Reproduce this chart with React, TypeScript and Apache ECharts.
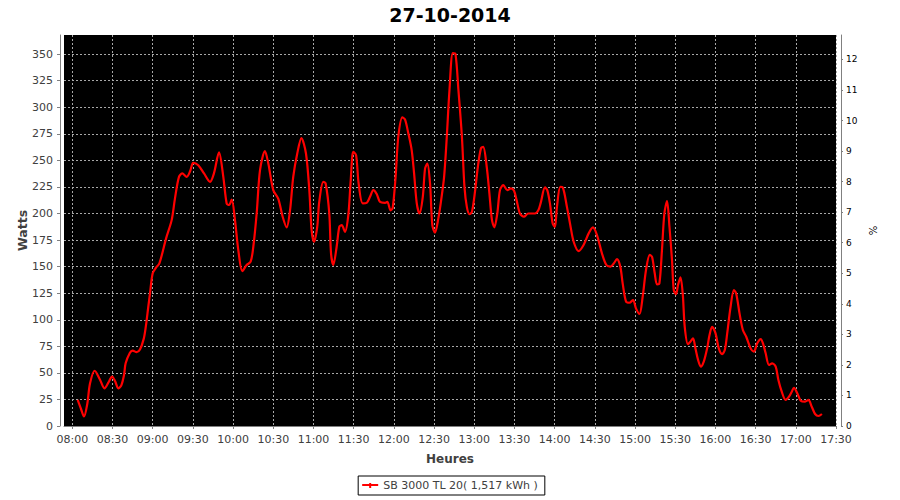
import React, { useEffect, useRef } from "react";
import * as echarts from "echarts";

const chartTitle = "27-10-2014";
const seriesName = "SB 3000 TL 20( 1,517 kWh )";

// minutes after 08:00
const minutesAfter8 = [
  4, 6.5, 8.7, 11.2, 13.2, 16.7, 20.5, 24, 27, 29.7, 32, 34.3, 36.5, 38.6, 39.8, 43, 45, 48, 50.5, 53.3,
  54.8, 56.7, 58, 60, 62.5, 65, 70, 74.2, 76.6, 79.6, 82, 85.4, 88, 90.3, 94, 98.3, 102.8, 105.7, 109.5, 112.7,
  115.2, 117, 119, 121.4, 123.9, 126.9, 130.1, 133.1, 135.1, 137.6, 140.1, 143.8, 146.3, 150, 153.7, 157, 160, 162.5, 164.9, 167.9,
  171, 174.4, 176.9, 178.6, 180.4, 182.8, 184.3, 187.3, 189.1, 191.8, 193.1, 194.8, 197.3, 199.3, 201.1, 203.5, 206, 207.8, 209.7, 211.8,
  213.7, 216.7, 219.7, 222.2, 224.7, 227.2, 229.6, 233.4, 235.1, 237.6, 239.1, 241.3, 243.3, 246.3, 248.3, 250.8, 253.3, 255.1, 257.1, 259.1,
  261.6, 263.3, 265, 267, 268.7, 270.7, 273.2, 275.3, 277.5, 279.5, 281.5, 284, 286, 288.2, 290.8, 292.7, 294.5, 296.5, 298.3, 300.7,
  302.7, 305, 306.7, 309.3, 311.3, 313.2, 315, 317.2, 319.2, 321.7, 324.7, 327.4, 329.7, 331.6, 334.1, 337.1, 340.3, 345.3, 347.8, 349.6,
  352.8, 354.5, 356.5, 358.5, 360.2, 361.7, 364.2, 366, 369.2, 371.7, 374.2, 377.9, 381.6, 385.4, 388.6, 391.6, 395.3, 398.6, 401.6, 404.1,
  406.5, 409, 410.8, 413.3, 415.8, 418.5, 420.7, 423.3, 425.7, 428.2, 431, 432.7, 434.7, 436.4, 438.2, 440.1, 441.9, 443.9, 445.7, 447.6,
  448.9, 450.6, 452.1, 453.9, 455.6, 457.1, 459.5, 461.3, 463.3, 465.1, 467.1, 469.1, 471.3, 473.8, 475.6, 477.5, 480.1, 482.5, 485, 487,
  488.8, 491.3, 493.8, 495.5, 498, 500.5, 503, 506.3, 508.7, 511.2, 513.8, 515.5, 517.5, 520, 522.4, 525, 527, 529.5, 532.4, 534.9,
  537, 538.6, 541.1, 543.7, 546.9, 549.4, 551.9, 554.4, 556.9, 559.5,
];

const watts = [
  24.5, 16, 9, 21, 40, 52, 44, 35.5, 41, 46.5, 42, 35.5, 38, 48, 59, 69, 71, 69.5, 72, 82,
  93, 112, 125, 143.7, 149, 153, 176.6, 194, 214, 234.5, 237.7, 234.5, 240, 247.7, 245.5, 237.7, 229.8, 237.7, 257.5, 234.5,
  209.5, 208, 213, 194, 165.6, 145.8, 151.5, 154.6, 168.7, 200, 240.8, 258.7, 247, 222, 214, 197, 187, 203, 234.5, 256.5,
  271, 256.5, 222, 184.4, 173.4, 187.5, 211, 229.8, 228.3, 200, 162.5, 151.5, 168.7, 187.5, 189, 182.8, 198.5, 231.4, 258, 255,
  228.3, 209.5, 210, 215.7, 222, 218.3, 211, 210, 211, 203, 205, 234.5, 272, 290.4, 288.5, 275.4, 259.7, 237.7, 209.5, 200,
  215.7, 242.4, 247, 228.3, 189, 182, 195.4, 212.6, 234.5, 272, 316, 351, 350, 316, 272, 225, 206, 199.4, 201.6, 222,
  244, 261.3, 262.8, 244, 219, 194, 187, 200, 222, 226.7, 222, 223.6, 221.4, 212.6, 200, 197, 200, 200, 203, 210,
  224.5, 222, 209.5, 190.7, 187.5, 206, 225, 224.6, 206, 189, 173.4, 164.6, 170.3, 181.3, 186.9, 179.7, 162.5, 151.5, 150, 153,
  157, 150, 134, 117, 116, 118.5, 110.7, 105.4, 121.6, 146.8, 161, 159.3, 143.7, 133.3, 134.2, 165.6, 200, 211.7, 187.5, 156,
  128, 124, 132.7, 140, 124.8, 93.4, 77, 79.3, 82.5, 73, 62, 55.8, 60.5, 73, 85.6, 93.4, 87.2, 73, 67.7, 71.5,
  87.2, 112, 128, 124.8, 106, 90.3, 84, 73, 70, 77.8, 81.8, 77.8, 68.4, 57.4, 59, 55.8, 43.3, 32.3, 24.5, 27.6,
  32.3, 36, 30.8, 23.8, 23, 24.5, 18.2, 11.3, 9.4, 11.3,
];

const xTickLabels = [
  "08:00", "08:30", "09:00", "09:30", "10:00", "10:30", "11:00", "11:30", "12:00", "12:30",
  "13:00", "13:30", "14:00", "14:30", "15:00", "15:30", "16:00", "16:30", "17:00", "17:30",
];
const wattTicks = [0, 25, 50, 75, 100, 125, 150, 175, 200, 225, 250, 275, 300, 325, 350];
const percentTicks = [0, 1, 2, 3, 4, 5, 6, 7, 8, 9, 10, 11, 12];

const toMin = (s: string) => {
  const [h, m] = s.split(":").map(Number);
  return h * 60 + m;
};
const fmt = (v: number) => {
  const h = Math.floor(v / 60);
  const m = Math.round(v - h * 60);
  return (h < 10 ? "0" : "") + h + ":" + (m < 10 ? "0" : "") + m;
};

const FONT = "DejaVu Sans";

export default function App() {
  const ref = useRef<HTMLDivElement>(null);
  useEffect(() => {
    if (!ref.current) return;
    const chart = echarts.init(ref.current, null, { renderer: "svg" });
    const xTicks = xTickLabels.map(toMin);
    const data = minutesAfter8.map((t, i) => [480 + t, watts[i]]);
    chart.setOption({
      animation: false,
      backgroundColor: "#ffffff",
      title: {
        text: chartTitle,
        left: "center",
        top: 5,
        padding: 0,
        textStyle: { fontFamily: FONT, fontSize: 19, fontWeight: "bold", color: "#000" },
      },
      legend: {
        data: [seriesName],
        left: "center",
        top: 476,
        padding: [4, 7, 4, 4],
        borderColor: "#000",
        borderWidth: 1,
        backgroundColor: "#fff",
        itemWidth: 16,
        itemHeight: 5,
        icon: "path://M0,2H16V4H0Z M7,1H9V6H7Z",
        textStyle: { fontFamily: FONT, fontSize: 11, color: "#404040" },
      },
      grid: {
        left: 64,
        right: 64,
        top: 35,
        bottom: 74,
        show: true,
        backgroundColor: "#000",
        borderWidth: 0,
      },
      xAxis: {
        type: "value",
        min: 473.8,
        max: 1050,
        offset: 1,
        name: "Heures",
        nameLocation: "middle",
        nameGap: 26,
        nameMoveOverlap: false,
        nameTextStyle: { fontFamily: FONT, fontSize: 12, fontWeight: "bold", color: "#404040" },
        axisLine: { show: true, lineStyle: { color: "#808080", width: 1 } },
        axisTick: { show: true, length: 3, customValues: xTicks, lineStyle: { color: "#808080" } },
        axisLabel: {
          customValues: xTicks,
          formatter: (v: number) => fmt(v),
          fontFamily: FONT,
          fontSize: 11,
          color: "#404040",
          margin: 7,
        },
        splitLine: { show: true, lineStyle: { color: "#a8a8a8", type: [2, 2], width: 1 } },
      },
      yAxis: [
        {
          type: "value",
          position: "left",
          min: 0,
          max: 368,
          offset: 4,
          name: "Watts",
          nameLocation: "middle",
          nameGap: 31,
          nameRotate: 90,
          nameMoveOverlap: false,
          nameTextStyle: { fontFamily: FONT, fontSize: 12.5, fontWeight: "bold", color: "#404040" },
          axisLine: { show: true, lineStyle: { color: "#808080", width: 1 } },
          axisTick: { show: true, length: 3, customValues: wattTicks, lineStyle: { color: "#808080" } },
          axisLabel: {
            customValues: wattTicks,
            fontFamily: FONT,
            fontSize: 11,
            color: "#404040",
            margin: 7,
          },
          splitLine: { show: true, lineStyle: { color: "#a8a8a8", type: [2, 2], width: 1 } },
        },
        {
          type: "value",
          position: "right",
          min: 0,
          max: 12.8,
          offset: 5,
          name: "%",
          nameLocation: "middle",
          nameGap: 26,
          nameRotate: -90,
          nameMoveOverlap: false,
          nameTextStyle: { fontFamily: FONT, fontSize: 10, color: "#000" },
          axisLine: { show: true, lineStyle: { color: "#808080", width: 1 } },
          axisTick: { show: true, length: 2, customValues: percentTicks, lineStyle: { color: "#808080" } },
          axisLabel: {
            customValues: percentTicks,
            fontFamily: FONT,
            fontSize: 9,
            color: "#000",
            margin: 5,
          },
          splitLine: { show: false },
        },
      ],
      series: [
        {
          name: seriesName,
          type: "line",
          yAxisIndex: 0,
          data,
          smooth: 0.3,
          showSymbol: false,
          symbol: "none",
          lineStyle: { color: "#ff0000", width: 2.2 },
          itemStyle: { color: "#ff0000" },
        },
      ],
    });
    return () => chart.dispose();
  }, []);
  return (
    <div
      ref={ref}
      style={{ position: "fixed", left: 0, top: 0, width: 900, height: 500 }}
    />
  );
}
